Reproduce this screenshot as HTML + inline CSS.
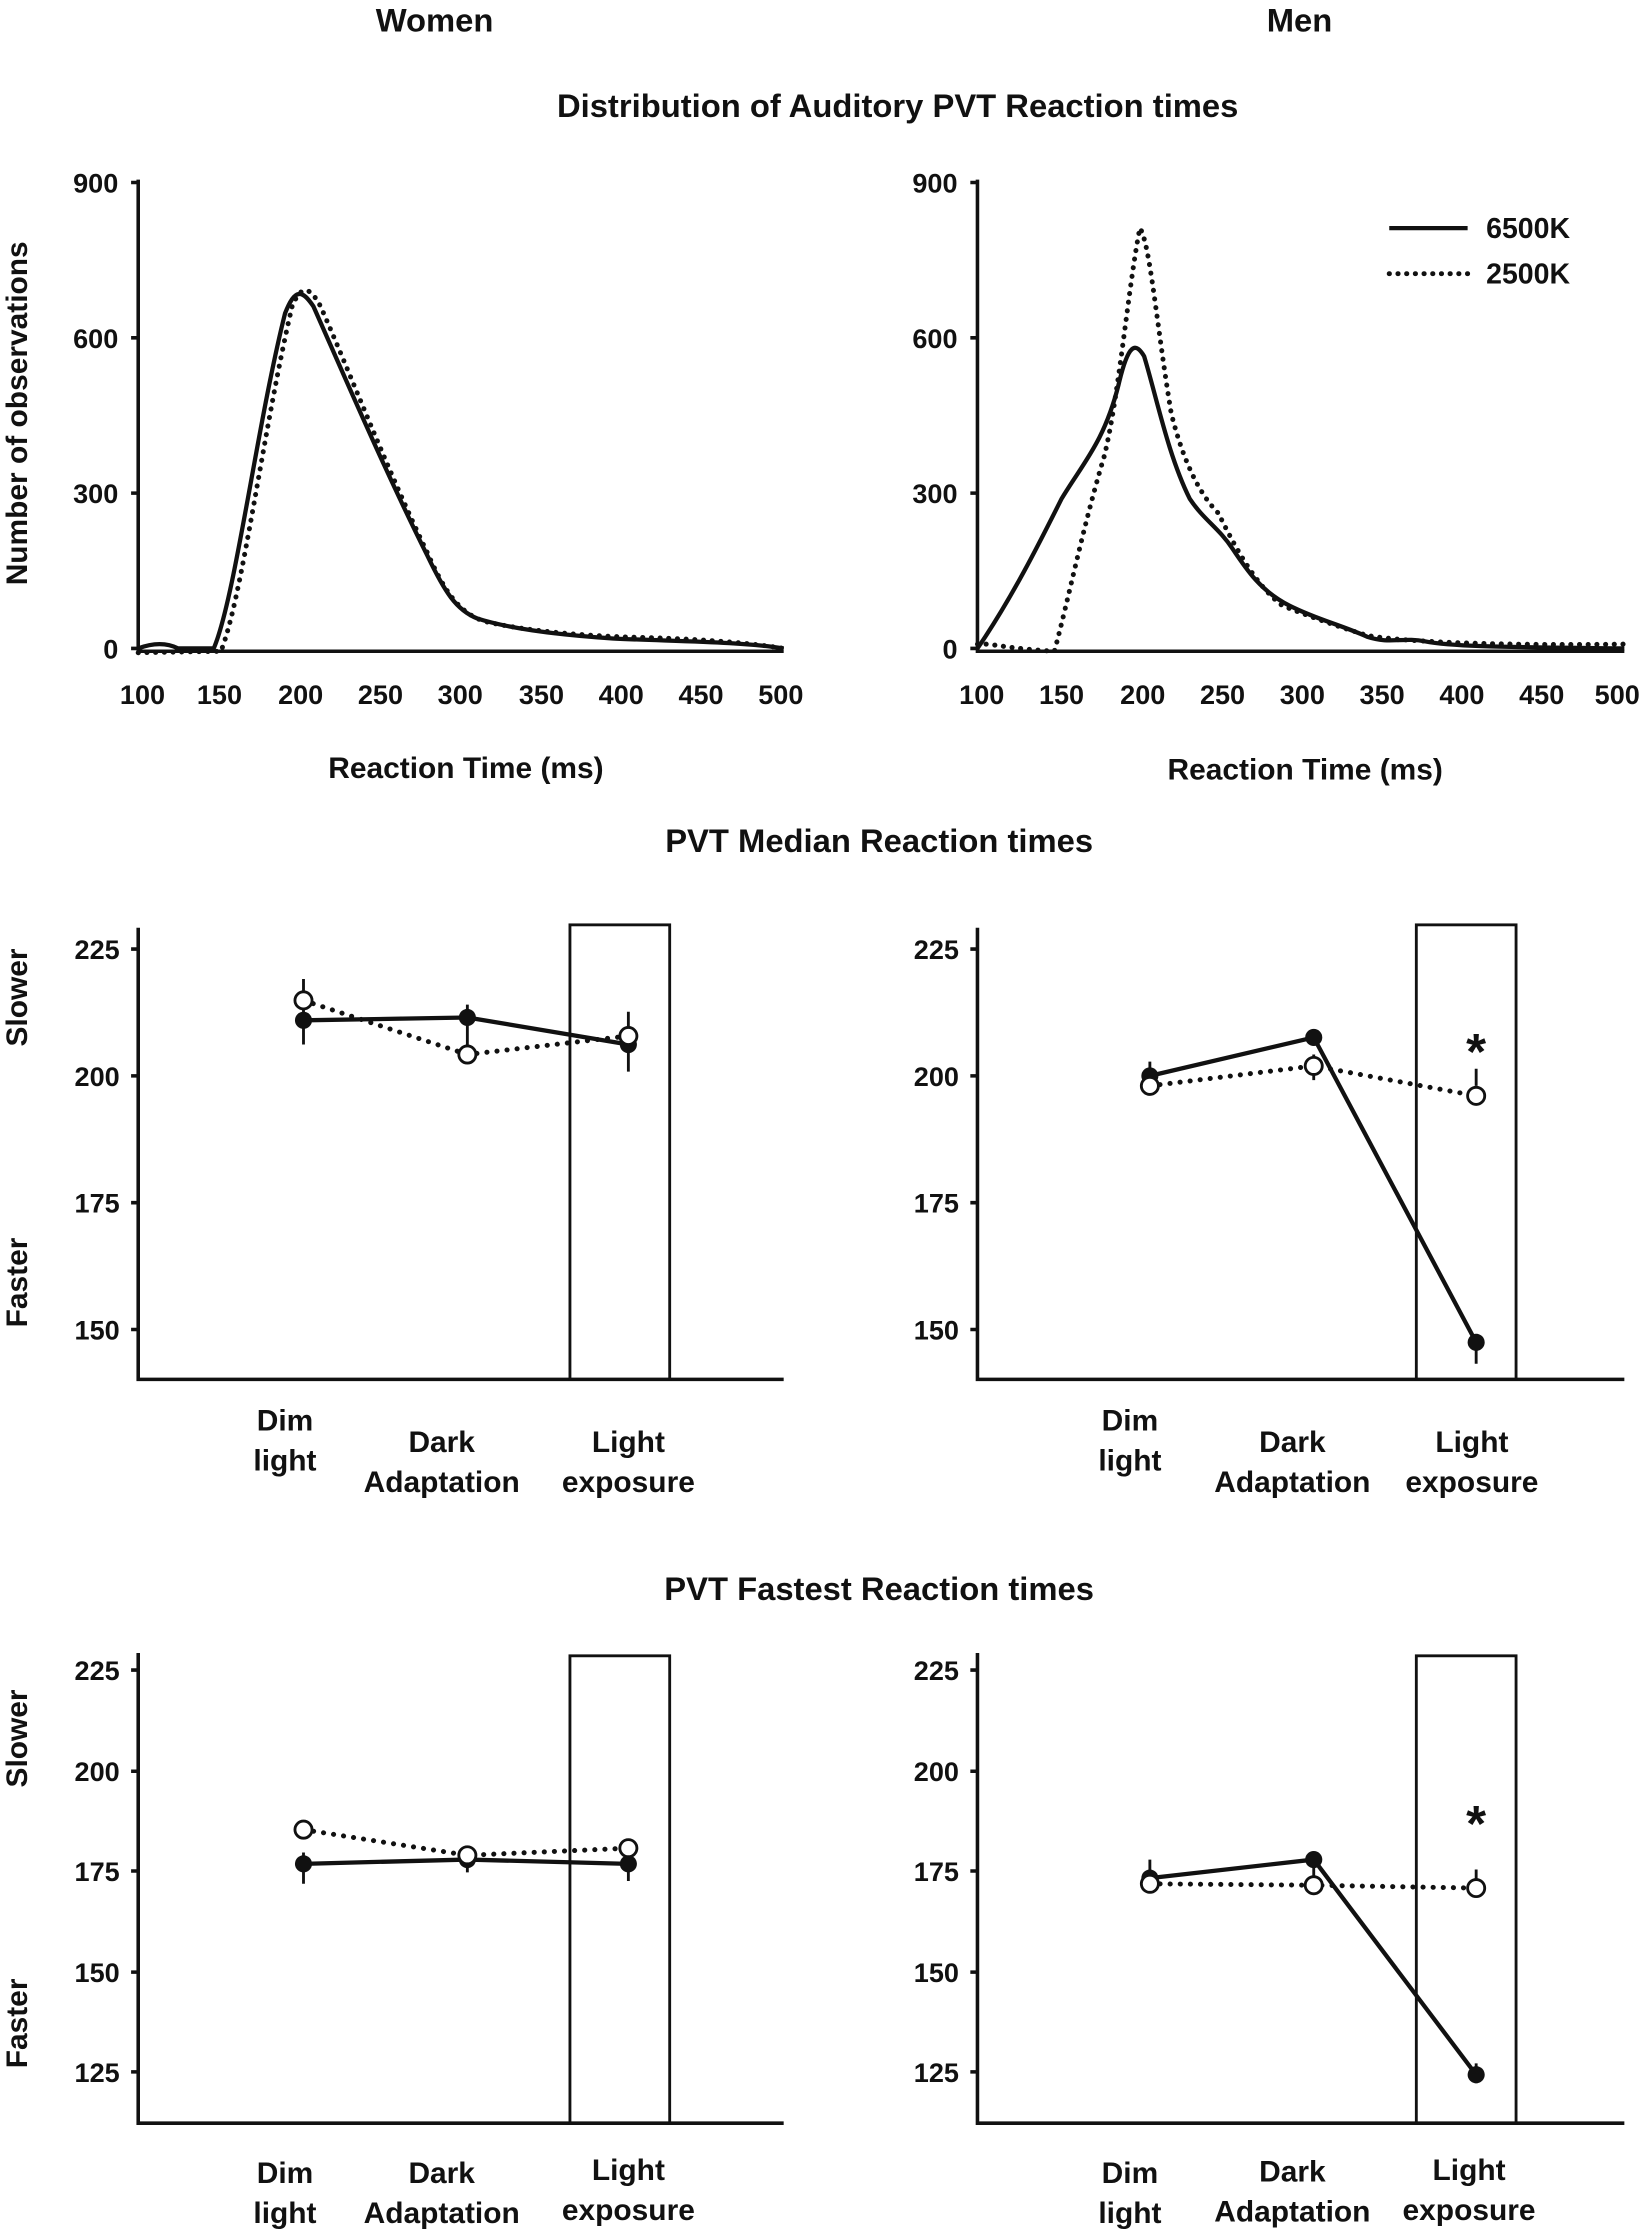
<!DOCTYPE html>
<html><head><meta charset="utf-8"><style>
html,body{margin:0;padding:0;background:#fff}
svg{display:block}
text{font-family:"Liberation Sans",sans-serif;font-weight:bold;fill:#111}
</style></head><body>
<svg width="1650" height="2233" viewBox="0 0 1158 1567" xmlns="http://www.w3.org/2000/svg">
<g font-size="23">
<text x="305" y="22" text-anchor="middle">Women</text>
<text x="912" y="22" text-anchor="middle">Men</text>
<text x="630" y="82" text-anchor="middle">Distribution of Auditory PVT Reaction times</text>
<text x="617" y="598" text-anchor="middle">PVT Median Reaction times</text>
<text x="617" y="1123" text-anchor="middle">PVT Fastest Reaction times</text>
</g>

<g stroke="#111" stroke-width="2.5" fill="none">
<path d="M97,126 V457 H550"/>
<path d="M92,128H97M92,237H97M92,346H97M92,455H97"/>
<path d="M686,126 V457 H1140"/>
<path d="M681,128H686M681,237H686M681,346H686M681,455H686"/>
</g>
<g font-size="19" text-anchor="end">
<text x="83" y="135">900</text><text x="83" y="244">600</text><text x="83" y="353">300</text><text x="83" y="462">0</text>
<text x="672" y="135">900</text><text x="672" y="244">600</text><text x="672" y="353">300</text><text x="672" y="462">0</text>
</g>
<g font-size="19" text-anchor="middle">
<text x="100" y="494">100</text><text x="154" y="494">150</text><text x="211" y="494">200</text><text x="267" y="494">250</text><text x="323" y="494">300</text><text x="380" y="494">350</text><text x="436" y="494">400</text><text x="492" y="494">450</text><text x="548" y="494">500</text>
<text x="689" y="494">100</text><text x="745" y="494">150</text><text x="802" y="494">200</text><text x="858" y="494">250</text><text x="914" y="494">300</text><text x="970" y="494">350</text><text x="1026" y="494">400</text><text x="1082" y="494">450</text><text x="1135" y="494">500</text>
</g>
<g font-size="21" text-anchor="middle">
<text x="327" y="546">Reaction Time (ms)</text>
<text x="916" y="547">Reaction Time (ms)</text>
<text transform="translate(19,290) rotate(-90)">Number of observations</text>
</g>
<path d="M97,455 C105,452 115,450 125,455 L150,455 C165,420 180,300 200,220 C207,202 212,203 220,215 C240,260 270,330 300,390 C312,415 320,428 335,434 C360,442 400,446 430,448 C470,450 520,450 550,455" stroke="#111" stroke-width="3" fill="none"/>
<path d="M97,458 L155,457 C170,420 185,300 205,215 C212,198 218,202 225,215 C245,260 272,330 300,388 C312,415 322,430 340,436 C370,443 410,446 440,447 C480,448 520,450 550,455" stroke="#111" stroke-width="3.5" stroke-dasharray="0.1 6" stroke-linecap="round" fill="none"/>
<path d="M686,455 C710,420 730,380 745,350 C760,325 775,310 785,270 C792,240 797,240 803,250 C812,280 820,320 835,350 C845,365 855,370 865,385 C875,400 885,415 905,425 C925,435 940,438 960,447 C975,452 985,447 1000,450 C1020,454 1060,454 1140,455" stroke="#111" stroke-width="3" fill="none"/>
<path d="M686,452 C695,451 705,455 740,457 C750,420 760,370 775,320 C785,280 792,200 800,160 C807,170 812,230 822,290 C832,330 845,350 855,360 C865,380 880,410 900,425 C920,433 940,440 960,446 C990,451 1060,453 1140,452" stroke="#111" stroke-width="3.5" stroke-dasharray="0.1 6" stroke-linecap="round" fill="none"/>
<line x1="975" y1="160" x2="1030" y2="160" stroke="#111" stroke-width="3"/>
<line x1="975" y1="192" x2="1030" y2="192" stroke="#111" stroke-width="3.5" stroke-dasharray="0.1 6" stroke-linecap="round"/>
<text x="1043" y="167" font-size="20">6500K</text>
<text x="1043" y="199" font-size="20">2500K</text>

<g stroke="#111" stroke-width="2.5" fill="none">
<path d="M97,651 V968 H550"/><path d="M92,666H97M92,755H97M92,844H97M92,933H97"/>
<rect x="400" y="649" width="70" height="319" stroke-width="2"/>
<path d="M686,651 V968 H1140"/><path d="M681,666H686M681,755H686M681,844H686M681,933H686"/>
<rect x="994" y="649" width="70" height="319" stroke-width="2"/>
</g>
<g font-size="19" text-anchor="end">
<text x="84" y="673">225</text><text x="84" y="762">200</text><text x="84" y="851">175</text><text x="84" y="940">150</text>
<text x="673" y="673">225</text><text x="673" y="762">200</text><text x="673" y="851">175</text><text x="673" y="940">150</text>
</g>
<g font-size="21" text-anchor="middle">
<text transform="translate(19,700) rotate(-90)">Slower</text>
<text transform="translate(19,900) rotate(-90)">Faster</text>
<text x="200" y="1004">Dim</text><text x="200" y="1032">light</text>
<text x="310" y="1019">Dark</text><text x="310" y="1047">Adaptation</text>
<text x="441" y="1019">Light</text><text x="441" y="1047">exposure</text>
<text x="793" y="1004">Dim</text><text x="793" y="1032">light</text>
<text x="907" y="1019">Dark</text><text x="907" y="1047">Adaptation</text>
<text x="1033" y="1019">Light</text><text x="1033" y="1047">exposure</text>
</g>
<g stroke="#111" stroke-width="2">
<path d="M213,687V733M328,705V740M441,710V752"/>
<path d="M807,745V764M922,740V758M1036,750V762M1036,940V957"/>
</g>
<path d="M213,716L328,714L441,733" stroke="#111" stroke-width="3" fill="none"/>
<path d="M213,702L328,740L441,727" stroke="#111" stroke-width="3.5" stroke-dasharray="0.1 7" stroke-linecap="round" fill="none"/>
<path d="M807,755L922,728L1036,942" stroke="#111" stroke-width="3" fill="none"/>
<path d="M807,762L922,748L1036,769" stroke="#111" stroke-width="3.5" stroke-dasharray="0.1 7" stroke-linecap="round" fill="none"/>
<g fill="#111"><circle cx="213" cy="716" r="6"/><circle cx="328" cy="714" r="6"/><circle cx="441" cy="733" r="6"/>
<circle cx="807" cy="755" r="6"/><circle cx="922" cy="728" r="6"/><circle cx="1036" cy="942" r="6"/></g>
<g fill="#fff" stroke="#111" stroke-width="2"><circle cx="213" cy="702" r="6"/><circle cx="328" cy="740" r="6"/><circle cx="441" cy="727" r="6"/>
<circle cx="807" cy="762" r="6"/><circle cx="922" cy="748" r="6"/><circle cx="1036" cy="769" r="6"/></g>
<text x="1036" y="750" font-size="36" text-anchor="middle">*</text>

<g stroke="#111" stroke-width="2.5" fill="none">
<path d="M97,1160 V1490 H550"/><path d="M92,1172H97M92,1243H97M92,1313H97M92,1384H97M92,1454H97"/>
<rect x="400" y="1162" width="70" height="328" stroke-width="2"/>
<path d="M686,1160 V1490 H1140"/><path d="M681,1172H686M681,1243H686M681,1313H686M681,1384H686M681,1454H686"/>
<rect x="994" y="1162" width="70" height="328" stroke-width="2"/>
</g>
<g font-size="19" text-anchor="end">
<text x="84" y="1179">225</text><text x="84" y="1250">200</text><text x="84" y="1320">175</text><text x="84" y="1391">150</text><text x="84" y="1461">125</text>
<text x="673" y="1179">225</text><text x="673" y="1250">200</text><text x="673" y="1320">175</text><text x="673" y="1391">150</text><text x="673" y="1461">125</text>
</g>
<g font-size="21" text-anchor="middle">
<text transform="translate(19,1220) rotate(-90)">Slower</text>
<text transform="translate(19,1420) rotate(-90)">Faster</text>
<text x="200" y="1532">Dim</text><text x="200" y="1560">light</text>
<text x="310" y="1532">Dark</text><text x="310" y="1560">Adaptation</text>
<text x="441" y="1530">Light</text><text x="441" y="1558">exposure</text>
<text x="793" y="1532">Dim</text><text x="793" y="1560">light</text>
<text x="907" y="1531">Dark</text><text x="907" y="1559">Adaptation</text>
<text x="1031" y="1530">Light</text><text x="1031" y="1558">exposure</text>
</g>
<g stroke="#111" stroke-width="2">
<path d="M213,1300V1322M328,1297V1314M441,1300V1320"/>
<path d="M807,1305V1320M922,1305V1320M1036,1312V1325M1036,1448V1462"/>
</g>
<path d="M213,1308L328,1305L441,1308" stroke="#111" stroke-width="3" fill="none"/>
<path d="M213,1284L328,1302L441,1297" stroke="#111" stroke-width="3.5" stroke-dasharray="0.1 7" stroke-linecap="round" fill="none"/>
<path d="M807,1318L922,1305L1036,1456" stroke="#111" stroke-width="3" fill="none"/>
<path d="M807,1322L922,1323L1036,1325" stroke="#111" stroke-width="3.5" stroke-dasharray="0.1 7" stroke-linecap="round" fill="none"/>
<g fill="#111"><circle cx="213" cy="1308" r="6"/><circle cx="328" cy="1305" r="6"/><circle cx="441" cy="1308" r="6"/>
<circle cx="807" cy="1318" r="6"/><circle cx="922" cy="1305" r="6"/><circle cx="1036" cy="1456" r="6"/></g>
<g fill="#fff" stroke="#111" stroke-width="2"><circle cx="213" cy="1284" r="6"/><circle cx="328" cy="1302" r="6"/><circle cx="441" cy="1297" r="6"/>
<circle cx="807" cy="1322" r="6"/><circle cx="922" cy="1323" r="6"/><circle cx="1036" cy="1325" r="6"/></g>
<text x="1036" y="1292" font-size="36" text-anchor="middle">*</text>
</svg>
</body></html>
